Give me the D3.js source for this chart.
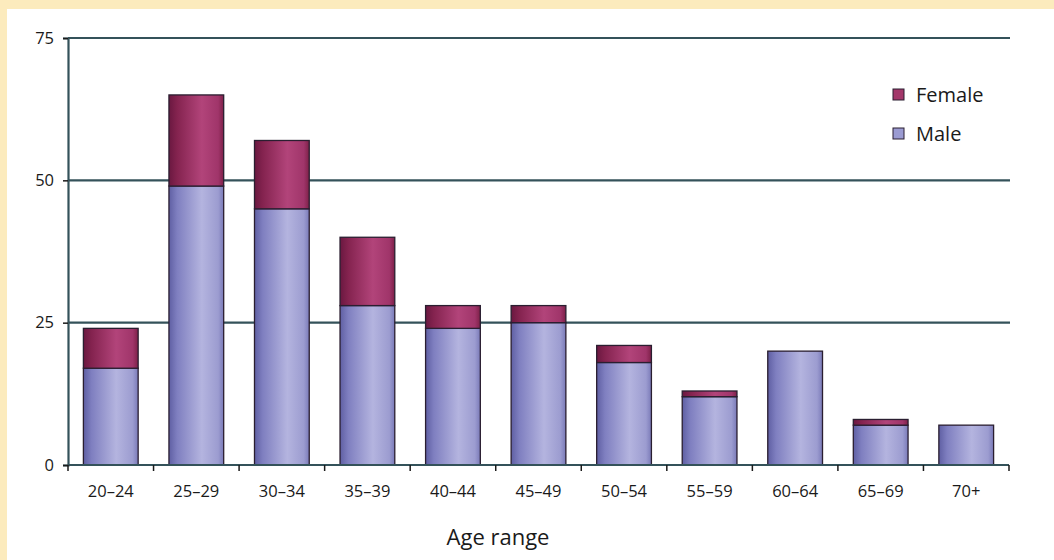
<!DOCTYPE html>
<html>
<head>
<meta charset="utf-8">
<script src="https://cdn.jsdelivr.net/npm/d3@7"></script>
<style>
  html, body { margin: 0; padding: 0; background: #fcebbd; }
  svg { display: block; }
  text { font-family: "Open Sans", Lato, sans-serif; fill: #1a1a1a; }
</style>
</head>
<body>
<svg id="chart" width="1054" height="560"></svg>
<script>
// Respondents by age range, split by sex
const categories = ["20–24", "25–29", "30–34", "35–39", "40–44", "45–49", "50–54", "55–59", "60–64", "65–69", "70+"];
const male   = [17, 49, 45, 28, 24, 25, 18, 12, 20, 7, 7];
const female = [7, 16, 12, 12, 4, 3, 3, 1, 0, 1, 0];
const seriesNames = ["Male", "Female"];
const yTicks = [0, 25, 50, 75];
const xTitle = "Age range";

const svg = d3.select("#chart");
const W = 1054, H = 560;

// white chart panel on the cream page
svg.append("rect").attr("x", 7).attr("y", 9).attr("width", W - 7).attr("height", H - 9).attr("fill", "#ffffff");

const margin = { left: 68, right: 1009, top: 38, bottom: 465 };

const x = d3.scaleBand().domain(categories).range([margin.left, margin.right]).paddingInner(0.36).paddingOuter(0.18);
const y = d3.scaleLinear().domain([0, 75]).range([margin.bottom, margin.top]);

const color = { Male: "#9b9bd2", Female: "#a3376a" };

// horizontal bar gradients
const defs = svg.append("defs");
function grad(id, stops) {
  const g = defs.append("linearGradient").attr("id", id).attr("x1", "0%").attr("x2", "100%").attr("y1", "0%").attr("y2", "0%");
  stops.forEach(([o, c]) => g.append("stop").attr("offset", o).attr("stop-color", c));
}
grad("gMale", [["0%", "#5f5fa3"], ["15%", "#7f7fc0"], ["60%", "#b4b4df"], ["90%", "#9c9cd0"], ["100%", "#7a7ab8"]]);
grad("gFemale", [["0%", "#6a1840"], ["15%", "#84234f"], ["60%", "#b2447a"], ["90%", "#a0356a"], ["100%", "#7d2048"]]);

// gridlines
svg.append("g").selectAll("line").data(yTicks.filter(d => d > 0)).join("line")
  .attr("x1", margin.left).attr("x2", margin.right + 1)
  .attr("y1", d => y(d)).attr("y2", d => y(d))
  .attr("stroke", "#34525a").attr("stroke-width", 2.2);

// y axis
const yAxis = svg.append("g").attr("transform", `translate(${margin.left},0)`)
  .call(d3.axisLeft(y).tickValues(yTicks).tickSize(5).tickPadding(9));
yAxis.select(".domain").attr("stroke", "#34525a").attr("stroke-width", 2.2);
yAxis.selectAll(".tick line").attr("stroke", "#1a1a1a").attr("stroke-width", 1.5);
yAxis.selectAll("text").attr("font-size", 16.5).attr("fill", "#1a1a1a");

// stacked bars
const stacked = d3.stack().keys(seriesNames)(categories.map((c, i) => ({ cat: c, Male: male[i], Female: female[i] })));
svg.append("g").selectAll("g").data(stacked).join("g")
  .attr("fill", d => d.key === "Male" ? "url(#gMale)" : "url(#gFemale)")
  .selectAll("rect").data(d => d.filter(p => p[1] - p[0] > 0)).join("rect")
  .attr("x", d => x(d.data.cat))
  .attr("width", x.bandwidth())
  .attr("y", d => y(d[1]))
  .attr("height", d => y(d[0]) - y(d[1]))
  .attr("stroke", "#2a1e30").attr("stroke-width", 1.3);

// x axis with ticks at band boundaries
const xg = svg.append("g");
xg.append("line").attr("x1", margin.left).attr("x2", margin.right)
  .attr("y1", y(0)).attr("y2", y(0)).attr("stroke", "#34525a").attr("stroke-width", 2.2);
const bounds = d3.range(categories.length + 1).map(i => margin.left + i * (margin.right - margin.left) / categories.length);
xg.selectAll("line.tk").data(bounds).join("line").attr("class", "tk")
  .attr("x1", d => d).attr("x2", d => d).attr("y1", y(0)).attr("y2", y(0) + 6)
  .attr("stroke", "#1a1a1a").attr("stroke-width", 1.5);
xg.selectAll("text").data(categories).join("text")
  .attr("x", d => x(d) + x.bandwidth() / 2).attr("y", y(0) + 32)
  .attr("text-anchor", "middle").attr("font-size", 16.5).text(d => d);

// axis title
svg.append("text").attr("x", 498).attr("y", 545).attr("text-anchor", "middle")
  .attr("font-size", 22).text(xTitle);

// legend
const legend = svg.append("g").attr("transform", "translate(893,89)");
["Female", "Male"].forEach((k, i) => {
  const g = legend.append("g").attr("transform", `translate(0,${i * 39})`);
  g.append("rect").attr("width", 11).attr("height", 11).attr("fill", color[k]).attr("stroke", "#2a1e30").attr("stroke-width", 1);
  g.append("text").attr("x", 23).attr("y", 13).attr("font-size", 20).text(k);
});
</script>
</body>
</html>
